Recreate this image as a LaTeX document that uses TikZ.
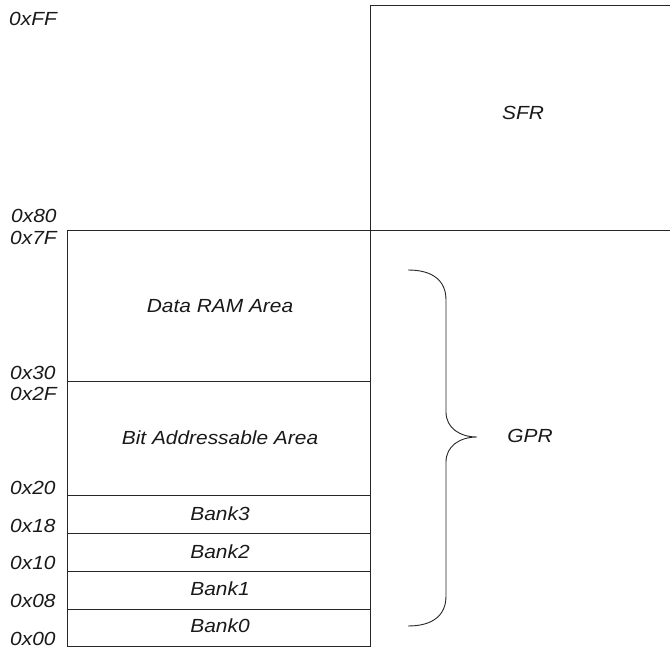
\documentclass[tikz,border=0pt]{standalone}
\usepackage{fontspec}
\setmainfont[FakeStretch=1.1]{Liberation Sans}
\begin{document}
\begin{tikzpicture}[x=1pt,y=-1pt,
  wall/.style={draw=black!85, line width=0.9pt},
  txt/.style={font=\fontsize{19}{22}\selectfont\itshape, inner sep=0pt, text=black!90},
  addr/.style={txt, anchor=west}]
\useasboundingbox (0,0) rectangle (670,650);
% SFR region
\draw[wall] (670,5) -- (370,5) -- (370,230);
\draw[wall] (67,230) -- (670,230);
% GPR block
\draw[wall] (67,230) rectangle (370,646);
\draw[wall] (67,381) -- (370,381);
\draw[wall] (67,495) -- (370,495);
\draw[wall] (67,533) -- (370,533);
\draw[wall] (67,571) -- (370,571);
\draw[wall] (67,609) -- (370,609);
% region texts
\node[txt] (sfr) at (523,112.5) {SFR};
\node[txt] (dram) at (220,306) {Data RAM Area};
\node[txt] (bit) at (220,438) {Bit Addressable Area};
\node[txt] (b3) at (220,514) {Bank3};
\node[txt] (b2) at (220,551.5) {Bank2};
\node[txt] (b1) at (220,589) {Bank1};
\node[txt] (b0) at (220,626) {Bank0};
% addresses
\node[addr] (aFF) at (9,19) {0xFF};
\node[addr] (a80) at (11,216) {0x80};
\node[addr] (a7F) at (10,237.5) {0x7F};
\node[addr] (a30) at (10,372.5) {0x30};
\node[addr] (a2F) at (10,394) {0x2F};
\node[addr] (a20) at (10,487.5) {0x20};
\node[addr] (a18) at (10,526) {0x18};
\node[addr] (a10) at (10,562.5) {0x10};
\node[addr] (a08) at (10,601) {0x08};
\node[addr] (a00) at (10,639) {0x00};
% brace
\coordinate (btop) at (408,270);
\coordinate (bbot) at (408,626);
\coordinate (btip) at (477,437);
\draw[draw=black!85, line width=0.9pt]
  (btop) .. controls (432,270) and (446,280) .. (446,300)
  -- (446,412) .. controls (446,428) and (460,437) .. (btip)
  .. controls (460,437) and (446,446) .. (446,462)
  -- (446,596) .. controls (446,616) and (432,626) .. (bbot);
\node[txt] (gpr) at (530,435.5) {GPR};
\end{tikzpicture}
\end{document}
